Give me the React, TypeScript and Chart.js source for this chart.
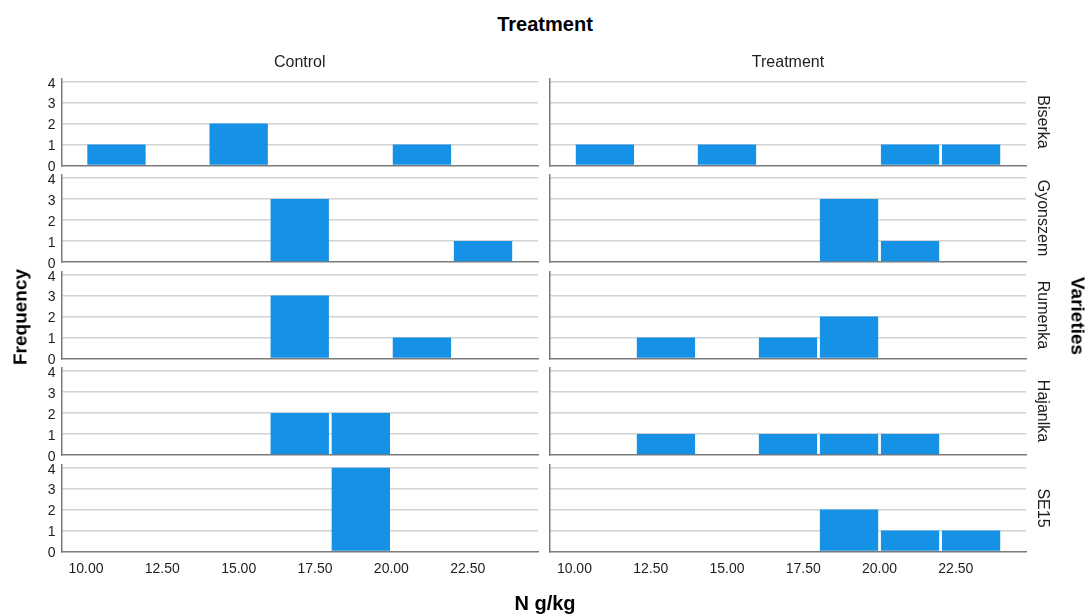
import React, { useEffect, useRef } from "react";
import { Chart, registerables } from "chart.js";

Chart.register(...registerables);

// ---------- data ----------
const BIN_CENTERS = [11, 13, 15, 17, 19, 21, 23]; // bins of width 2: 10-12 ... 22-24
const X_MIN = 9.2;
const X_MAX = 24.8;
const X_STEP = 2.5;
const Y_MAX = 4.16;
const Y_STEP = 1;

const GROUPS = ["Control", "Treatment"];
const VARIETIES = ["Biserka", "Gyonszem", "Rumenka", "Hajanlka", "SE15"];

const CONTROL_BISERKA = [1, 0, 2, 0, 0, 1, 0];
const CONTROL_GYONSZEM = [0, 0, 0, 3, 0, 0, 1];
const CONTROL_RUMENKA = [0, 0, 0, 3, 0, 1, 0];
const CONTROL_HAJANLKA = [0, 0, 0, 2, 2, 0, 0];
const CONTROL_SE15 = [0, 0, 0, 0, 4, 0, 0];

const TREATMENT_BISERKA = [1, 0, 1, 0, 0, 1, 1];
const TREATMENT_GYONSZEM = [0, 0, 0, 0, 3, 1, 0];
const TREATMENT_RUMENKA = [0, 1, 0, 1, 2, 0, 0];
const TREATMENT_HAJANLKA = [0, 1, 0, 1, 1, 1, 0];
const TREATMENT_SE15 = [0, 0, 0, 0, 2, 1, 1];

const CONTROL_COUNTS = [CONTROL_BISERKA, CONTROL_GYONSZEM, CONTROL_RUMENKA, CONTROL_HAJANLKA, CONTROL_SE15];
const TREATMENT_COUNTS = [TREATMENT_BISERKA, TREATMENT_GYONSZEM, TREATMENT_RUMENKA, TREATMENT_HAJANLKA, TREATMENT_SE15];
const COUNTS_BY_GROUP = [CONTROL_COUNTS, TREATMENT_COUNTS];

const TITLE = "Treatment";
const X_TITLE = "N g/kg";
const Y_TITLE = "Frequency";
const ROW_TITLE = "Varieties";

// ---------- style / layout ----------
const FONT = "'Liberation Sans', Arial, Helvetica, sans-serif";
const BAR_COLOR = "#1591e6";
const GRID_COLOR = "#d2d2d2";
const AXIS_COLOR = "#7a7a7a";
const TEXT_COLOR = "#1e1e1e";

const COL_LEFT = [61.5, 550];
const COL_RIGHT = [538, 1026];
const ROW_TOP0 = 78.3;
const ROW_PITCH = 96.5;
const ROW_HEIGHT = 87.2;

Chart.defaults.font.family = FONT;

type PanelProps = { col: number; row: number; counts: number[]; showX: boolean };

function Panel({ col, row, counts, showX }: PanelProps) {
  const ref = useRef<HTMLCanvasElement | null>(null);

  const canvasLeft = col === 0 ? 0 : 540;
  const canvasWidth = col === 0 ? 540 : 548;
  const yAxisWidth = COL_LEFT[col] - canvasLeft;
  const padRight = canvasLeft + canvasWidth - COL_RIGHT[col];
  const areaTop = ROW_TOP0 + ROW_PITCH * row;
  const canvasTop = Math.floor(areaTop) - 12;
  const padTop = areaTop - canvasTop;
  const xAxisHeight = showX ? 34 : 0;
  const padBottom = 10;
  const canvasHeight = Math.ceil(padTop + ROW_HEIGHT + xAxisHeight + padBottom);
  const realPadBottom = canvasHeight - padTop - ROW_HEIGHT - xAxisHeight;

  useEffect(() => {
    if (!ref.current) return;
    const chart = new Chart(ref.current, {
      type: "bar",
      data: {
        datasets: [
          {
            data: BIN_CENTERS.map((x, i) => ({ x, y: counts[i] })),
            backgroundColor: BAR_COLOR,
            borderWidth: 0,
            barPercentage: 0.955,
            categoryPercentage: 1,
          },
        ],
      },
      options: {
        animation: false,
        responsive: false,
        maintainAspectRatio: false,
        layout: { padding: { top: padTop, right: padRight, bottom: realPadBottom, left: 0 } },
        plugins: { legend: { display: false }, tooltip: { enabled: false }, title: { display: false } },
        scales: {
          x: {
            type: "linear",
            offset: false,
            min: X_MIN,
            max: X_MAX,
            grid: { display: false, drawTicks: false, offset: false },
            border: { display: true, color: AXIS_COLOR, width: 1.5 },
            ticks: {
              display: showX,
              stepSize: X_STEP,
              includeBounds: false,
              autoSkip: false,
              maxRotation: 0,
              padding: 9,
              color: TEXT_COLOR,
              font: { size: 14, family: FONT },
              callback: (v: any) => Number(v).toFixed(2),
            },
            afterFit: (s: any) => {
              s.height = xAxisHeight;
              s.paddingLeft = 0;
              s.paddingRight = 0;
              s.paddingTop = 0;
              s.paddingBottom = 0;
            },
          },
          y: {
            type: "linear",
            min: 0,
            max: Y_MAX,
            grid: {
              drawTicks: false,
              color: (ctx: any) => (ctx.tick && ctx.tick.value === 0 ? "rgba(0,0,0,0)" : GRID_COLOR),
              lineWidth: 1.5,
            },
            border: { display: true, color: AXIS_COLOR, width: 1.5 },
            ticks: {
              display: col === 0,
              stepSize: Y_STEP,
              includeBounds: false,
              padding: 6,
              labelOffset: 2,
              color: TEXT_COLOR,
              font: { size: 14, family: FONT },
            },
            afterFit: (s: any) => {
              s.width = yAxisWidth;
              s.paddingTop = 0;
              s.paddingBottom = 0;
              s.paddingLeft = 0;
              s.paddingRight = 0;
            },
          },
        },
      },
    } as any);
    return () => chart.destroy();
  }, []);

  return (
    <canvas
      ref={ref}
      width={canvasWidth}
      height={canvasHeight}
      style={{ position: "absolute", left: canvasLeft, top: canvasTop, width: canvasWidth, height: canvasHeight }}
    />
  );
}

function Label({
  text,
  x,
  y,
  size,
  bold,
  rotate,
}: {
  text: string;
  x: number;
  y: number;
  size: number;
  bold?: boolean;
  rotate?: number;
}) {
  return (
    <div
      style={{
        position: "absolute",
        left: x,
        top: y,
        transform: `translate(-50%, -50%) rotate(${rotate || 0}deg)`,
        whiteSpace: "nowrap",
        fontFamily: FONT,
        fontSize: size,
        fontWeight: bold ? 700 : 400,
        lineHeight: 1,
        color: bold ? "#000" : TEXT_COLOR,
      }}
    >
      {text}
    </div>
  );
}

export default function App() {
  const panels: React.ReactNode[] = [];
  GROUPS.forEach((_, col) => {
    VARIETIES.forEach((__, row) => {
      panels.push(
        <Panel
          key={`${col}-${row}`}
          col={col}
          row={row}
          counts={COUNTS_BY_GROUP[col][row]}
          showX={row === VARIETIES.length - 1}
        />
      );
    });
  });

  return (
    <div
      style={{
        position: "absolute",
        left: 0,
        top: 0,
        width: 1088,
        height: 614,
        background: "#fff",
        overflow: "hidden",
      }}
    >
      {panels}
      <Label text={TITLE} x={545} y={24} size={20} bold />
      {GROUPS.map((g, col) => (
        <Label key={g} text={g} x={(COL_LEFT[col] + COL_RIGHT[col]) / 2} y={62} size={16} />
      ))}
      {VARIETIES.map((v, row) => (
        <Label
          key={v}
          text={v}
          x={1043}
          y={ROW_TOP0 + ROW_PITCH * row + ROW_HEIGHT / 2}
          size={16}
          rotate={90}
        />
      ))}
      <Label text={Y_TITLE} x={20} y={317} size={19} bold rotate={-90} />
      <Label text={ROW_TITLE} x={1078} y={316} size={19} bold rotate={90} />
      <Label text={X_TITLE} x={545} y={603} size={20} bold />
    </div>
  );
}
